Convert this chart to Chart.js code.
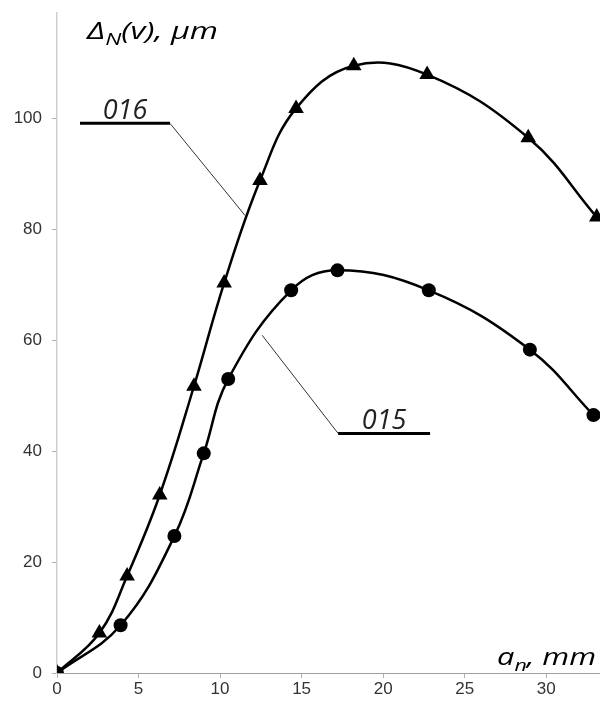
<!DOCTYPE html>
<html lang="en">

<head>
    <meta charset="UTF-8">
    <title>Δ_N(v) vs a_n</title>
    <script src="https://cdn.jsdelivr.net/npm/chart.js"></script>
    <style>
        body {
            margin: 0;
            background: #fff;
        }

        #wrap {
            width: 600px;
            height: 702px;
            position: relative;
        }
    </style>
</head>

<body>
    <div id="wrap">
        <canvas id="grafico"></canvas>
    </div>

    <script>
        // series 016 (triangles)
        const x016 = [0, 2.6, 4.3, 6.3, 8.4, 10.25, 12.45, 14.66, 18.2, 22.7, 28.9, 33.1];
        const y016 = [0, 7.2, 17.5, 32.1, 51.7, 70.3, 88.8, 101.8, 109.5, 107.9, 96.5, 82.2];

        // series 015 (circles)
        const x015 = [0, 3.9, 7.2, 9.0, 10.5, 14.36, 17.2, 22.8, 29.0, 32.9];
        const y015 = [0, 8.6, 24.7, 39.6, 53.0, 69.0, 72.6, 69.0, 58.3, 46.5];

        const xTicks = [0, 5, 10, 15, 20, 25, 30];
        const yTicks = [0, 20, 40, 60, 80, 100];

        // callout labels: text, underline start/end and leader end (in data units)
        const callouts = [
            { text: '016', x1: 1.41, x2: 6.93, y: 99.1, tx: 11.53, ty: 82.5 },
            { text: '015', x1: 17.24, x2: 22.88, y: 43.2, tx: 12.58, ty: 60.9 }
        ];

        const toPts = (xs, ys) => xs.map((x, i) => ({ x: x, y: ys[i] }));
        const fonte = '"Open Sans"';

        // texto com subscrito, esticado na horizontal até a largura pedida
        function textoSub(ctx, partes, x0, x1, base, size, subSize) {
            let w = 0;
            partes.forEach(p => {
                ctx.font = 'italic ' + (p.sub ? subSize : size) + 'px ' + fonte;
                w += ctx.measureText(p.t).width;
            });
            const k = (x1 - x0) / w;
            ctx.save();
            ctx.translate(x0, 0);
            ctx.scale(k, 1);
            let x = 0;
            partes.forEach(p => {
                ctx.font = 'italic ' + (p.sub ? subSize : size) + 'px ' + fonte;
                ctx.fillText(p.t, x, p.sub ? base + 6 : base);
                x += ctx.measureText(p.t).width;
            });
            ctx.restore();
        }

        const anotacoes = {
            id: 'anotacoes',
            afterDatasetsDraw(chart) {
                const ctx = chart.ctx;
                const sx = chart.scales.x;
                const sy = chart.scales.y;
                ctx.save();
                callouts.forEach(c => {
                    const a = sx.getPixelForValue(c.x1);
                    const b = sx.getPixelForValue(c.x2);
                    const yy = sy.getPixelForValue(c.y);
                    const leaderStart = c.tx > c.x2 ? b : a;
                    // leader
                    ctx.strokeStyle = '#333';
                    ctx.lineWidth = 1;
                    ctx.beginPath();
                    ctx.moveTo(leaderStart, yy);
                    ctx.lineTo(sx.getPixelForValue(c.tx), sy.getPixelForValue(c.ty));
                    ctx.stroke();
                    // underline
                    ctx.strokeStyle = '#000';
                    ctx.lineWidth = 3;
                    ctx.beginPath();
                    ctx.moveTo(a, yy);
                    ctx.lineTo(b, yy);
                    ctx.stroke();
                    // label
                    ctx.fillStyle = '#222';
                    ctx.font = 'italic 27px ' + fonte;
                    ctx.textAlign = 'center';
                    ctx.textBaseline = 'alphabetic';
                    ctx.fillText(c.text, (a + b) / 2, yy - 4);
                });

                // axis titles
                ctx.fillStyle = '#000';
                ctx.textAlign = 'left';
                textoSub(ctx, [{ t: 'Δ' }, { t: 'N', sub: true }, { t: '(v), μm' }], 87, 218, 39, 24, 17);
                textoSub(ctx, [{ t: 'a' }, { t: 'n', sub: true }, { t: ', mm' }], 497, 596, 665, 23, 16);
                ctx.restore();
            }
        };

        const ctx = document.getElementById('grafico').getContext('2d');
        const myChart = new Chart(ctx, {
            type: 'line',
            data: {
                datasets: [{
                    label: '016',
                    data: toPts(x016, y016),
                    borderColor: '#000',
                    backgroundColor: '#000',
                    borderWidth: 2.5,
                    tension: 0.4,
                    pointStyle: 'triangle',
                    pointRadius: 9,
                    pointBorderWidth: 0
                }, {
                    label: '015',
                    data: toPts(x015, y015),
                    borderColor: '#000',
                    backgroundColor: '#000',
                    borderWidth: 2.5,
                    tension: 0.4,
                    pointStyle: 'circle',
                    pointRadius: 7,
                    pointBorderWidth: 0
                }]
            },
            options: {
                responsive: true,
                maintainAspectRatio: false,
                animation: false,
                layout: {
                    autoPadding: false,
                    padding: { top: 13, right: 0, left: 0, bottom: 0 }
                },
                plugins: {
                    legend: { display: false },
                    tooltip: { enabled: false }
                },
                scales: {
                    x: {
                        type: 'linear',
                        min: 0,
                        max: 33.3,
                        afterBuildTicks: s => { s.ticks = xTicks.map(v => ({ value: v })); },
                        afterFit: s => { s.height = 29; s.paddingLeft = 0; s.paddingRight = 0; },
                        grid: { drawOnChartArea: false, tickLength: 5, color: '#b0b0b0' },
                        border: { color: '#a0a0a0', width: 1 },
                        ticks: { color: '#333', font: { family: 'Liberation Sans', size: 17 }, padding: 1, maxRotation: 0 }
                    },
                    y: {
                        min: 0,
                        max: 119,
                        afterBuildTicks: s => { s.ticks = yTicks.map(v => ({ value: v })); },
                        afterFit: s => { s.width = 57; s.paddingTop = 0; s.paddingBottom = 0; },
                        grid: { drawOnChartArea: false, tickLength: 5, color: '#b0b0b0' },
                        border: { color: '#cfcfcf', width: 1.5 },
                        ticks: { color: '#333', font: { family: 'Liberation Sans', size: 17 }, padding: 10 }
                    }
                }
            },
            plugins: [anotacoes]
        });
    </script>
</body>

</html>
